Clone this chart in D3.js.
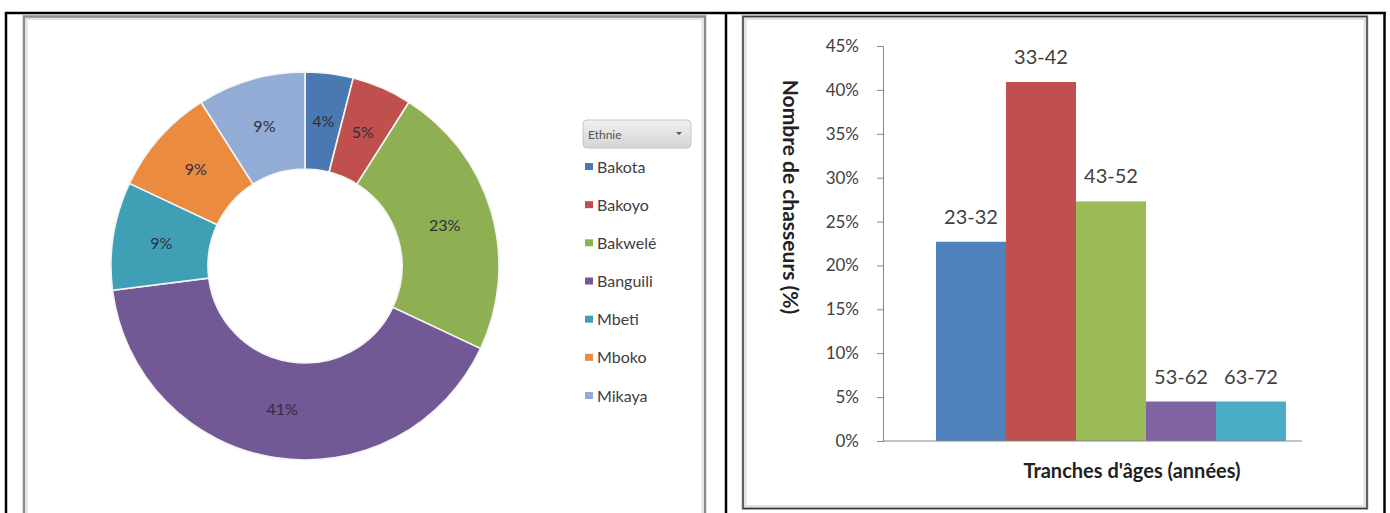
<!DOCTYPE html>
<html>
<head>
<meta charset="utf-8">
<script src="https://cdn.jsdelivr.net/npm/d3@7"></script>
<style>
  html, body { margin: 0; padding: 0; background: #ffffff; }
  svg { display: block; }
  text { font-family: Lato, "Open Sans", "DejaVu Sans", sans-serif; }
</style>
</head>
<body>
<svg id="fig" width="1390" height="513"></svg>
<script>
// Ethnic groups of the hunters (share, %)
const ethnies = ["Bakota", "Bakoyo", "Bakwelé", "Banguili", "Mbeti", "Mboko", "Mikaya"];
const ethniePct = [4, 5, 23, 41, 9, 9, 9];
const ethnieColors = ["#4a78b0", "#c0504d", "#8fb052", "#735896", "#3fa0b5", "#ea8b3f", "#93acd6"];

// Age groups of the hunters (share, fraction)
const tranches = ["23-32", "33-42", "43-52", "53-62", "63-72"];
const tranchePct = [0.227, 0.409, 0.273, 0.045, 0.045];
const trancheColors = ["#4f81bd", "#c0504d", "#9bbb59", "#8064a2", "#4bacc6"];
const yTicks = [0, 0.05, 0.10, 0.15, 0.20, 0.25, 0.30, 0.35, 0.40, 0.45];

const svg = d3.select("#fig");

// ---- table borders and chart frames ----
const frame = svg.append("g");
function chartFrame(x, y, w, h) {
  frame.append("rect").attr("x", x).attr("y", y).attr("width", w).attr("height", h)
    .attr("fill", "#ffffff").attr("stroke", "#8a8a8a").attr("stroke-width", 2.5);
  frame.append("rect").attr("x", x + 2.5).attr("y", y + 2.5).attr("width", w - 5).attr("height", h - 5)
    .attr("fill", "none").attr("stroke", "#e2e2e2").attr("stroke-width", 2);
}
chartFrame(24, 16.5, 681, 520);
chartFrame(743, 16.5, 624, 492);
frame.append("rect").attr("x", 743).attr("y", 16.5).attr("width", 624).attr("height", 492)
  .attr("fill", "none").attr("stroke", "#3a3a3a").attr("stroke-width", 1);

const table = svg.append("g").attr("stroke", "#000").attr("stroke-width", 2.5).attr("fill", "none");
table.append("line").attr("x1", 5).attr("x2", 1386).attr("y1", 13).attr("y2", 13);
table.append("line").attr("x1", 6).attr("x2", 6).attr("y1", 12).attr("y2", 513);
table.append("line").attr("x1", 726).attr("x2", 726).attr("y1", 12).attr("y2", 513);
table.append("line").attr("x1", 1384.5).attr("x2", 1384.5).attr("y1", 12).attr("y2", 513);

// ---- donut of ethnic groups ----
const cx = 305, cy = 266, rOut = 194, rIn = 97;
const pie = d3.pie().sort(null).value(d => d)(ethniePct);
const arc = d3.arc().innerRadius(rIn).outerRadius(rOut);
const donut = svg.append("g").attr("transform", `translate(${cx},${cy})`);

donut.selectAll("path.slice").data(pie).join("path")
  .attr("class", "slice")
  .attr("d", arc)
  .attr("fill", (d, i) => ethnieColors[i])
  .attr("stroke", "#f4f4f4").attr("stroke-width", 1.6);

donut.selectAll("text.lbl").data(pie).join("text")
  .attr("class", "lbl")
  .attr("x", d => arc.centroid(d)[0])
  .attr("y", d => arc.centroid(d)[1])
  .attr("dy", "0.35em")
  .attr("text-anchor", "middle")
  .attr("font-size", 16)
  .attr("fill", "#2e2e3e")
  .text(d => d.data + "%");

// legend with the field button
const leg = svg.append("g");
const grad = svg.append("defs").append("linearGradient").attr("id", "btn")
  .attr("x1", 0).attr("x2", 0).attr("y1", 0).attr("y2", 1);
grad.append("stop").attr("offset", "0%").attr("stop-color", "#f0f0f0");
grad.append("stop").attr("offset", "100%").attr("stop-color", "#d4d4d4");
leg.append("rect").attr("x", 583).attr("y", 120).attr("width", 108).attr("height", 28).attr("rx", 4)
  .attr("fill", "url(#btn)").attr("stroke", "#c6c6c6");
leg.append("text").attr("x", 588).attr("y", 139).attr("font-size", 12).attr("fill", "#555").text("Ethnie");
leg.append("path").attr("d", "M676,132 l6,0 l-3,3 z").attr("fill", "#555");

const legY = d3.scalePoint().domain(ethnies).range([167, 396]);
const items = leg.selectAll("g.item").data(ethnies).join("g").attr("class", "item")
  .attr("transform", d => `translate(585,${legY(d)})`);
items.append("rect").attr("x", 0).attr("y", -4).attr("width", 8).attr("height", 7)
  .attr("fill", (d, i) => ethnieColors[i]);
items.append("text").attr("x", 12).attr("dy", "0.35em").attr("font-size", 16)
  .attr("fill", "#404040").text(d => d);

// ---- bar chart of age groups ----
const y = d3.scaleLinear().domain([0, 0.45]).range([441, 46]);
const x = d3.scaleBand().domain(tranches).range([936, 1286]).paddingInner(0);
const axisX0 = 883, axisX1 = 1302;

const yAxis = svg.append("g").attr("transform", `translate(${axisX0},0)`)
  .call(d3.axisLeft(y).tickValues(yTicks).tickFormat(d3.format(".0%")).tickSize(6).tickPadding(18));
yAxis.select(".domain").attr("stroke", "#868686");
yAxis.selectAll(".tick line").attr("stroke", "#868686");
yAxis.selectAll(".tick text").attr("font-size", 17).attr("fill", "#404040")
  .attr("font-family", "Lato, 'Open Sans', sans-serif");

svg.append("g").selectAll("rect").data(tranches).join("rect")
  .attr("x", d => x(d))
  .attr("width", x.bandwidth())
  .attr("y", (d, i) => y(tranchePct[i]))
  .attr("height", (d, i) => y(0) - y(tranchePct[i]))
  .attr("fill", (d, i) => trancheColors[i]);

svg.append("line").attr("x1", axisX0).attr("x2", axisX1).attr("y1", y(0)).attr("y2", y(0))
  .attr("stroke", "#868686");

svg.append("g").selectAll("text").data(tranches).join("text")
  .attr("x", d => x(d) + x.bandwidth() / 2)
  .attr("y", (d, i) => y(tranchePct[i]) - 18)
  .attr("text-anchor", "middle")
  .attr("font-size", 20)
  .attr("fill", "#404040")
  .text(d => d);

svg.append("text").attr("x", 1132).attr("y", 478).attr("text-anchor", "middle")
  .attr("font-size", 20).attr("font-weight", "bold").attr("fill", "#222")
  .text("Tranches d'âges (années)");

svg.append("text").attr("transform", "translate(783,197) rotate(90)")
  .attr("text-anchor", "middle")
  .attr("font-size", 21).attr("font-weight", "bold").attr("fill", "#222")
  .text("Nombre de chasseurs (%)");
</script>
</body>
</html>
